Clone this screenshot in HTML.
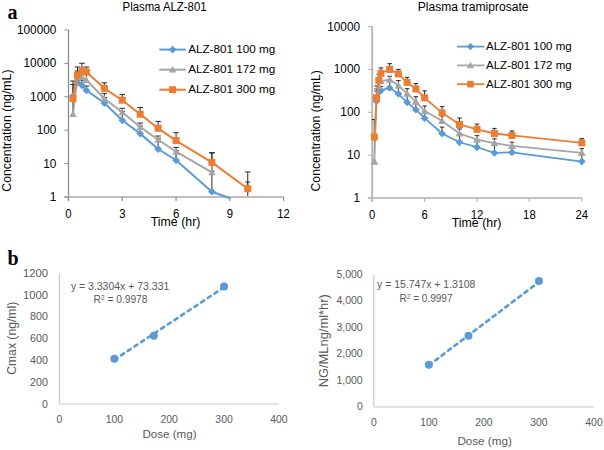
<!DOCTYPE html>
<html><head><meta charset="utf-8"><title>Figure</title>
<style>
html,body{margin:0;padding:0;background:#fff;}
body{width:604px;height:450px;overflow:hidden;}
svg{display:block;font-family:"Liberation Sans", sans-serif;}
</style></head>
<body>
<svg width="604" height="450" viewBox="0 0 604 450">
<rect width="604" height="450" fill="#fff"/>
<text x="164.55" y="11.20" font-size="12.0" text-anchor="middle" fill="#000" textLength="84" lengthAdjust="spacingAndGlyphs">Plasma ALZ-801</text>
<line x1="68.50" y1="30.00" x2="68.50" y2="201.00" stroke="#8c8c8c" stroke-width="1.3"/>
<line x1="64.20" y1="197.00" x2="283.60" y2="197.00" stroke="#bfbfbf" stroke-width="2"/>
<line x1="64.40" y1="197.00" x2="68.50" y2="197.00" stroke="#8c8c8c" stroke-width="1"/>
<text x="56.30" y="201.00" font-size="11.9" text-anchor="end" fill="#000" textLength="6.55" lengthAdjust="spacingAndGlyphs">1</text>
<line x1="64.40" y1="163.60" x2="68.50" y2="163.60" stroke="#8c8c8c" stroke-width="1"/>
<text x="56.30" y="167.60" font-size="11.9" text-anchor="end" fill="#000" textLength="13.1" lengthAdjust="spacingAndGlyphs">10</text>
<line x1="64.40" y1="130.20" x2="68.50" y2="130.20" stroke="#8c8c8c" stroke-width="1"/>
<text x="56.30" y="134.20" font-size="11.9" text-anchor="end" fill="#000" textLength="19.65" lengthAdjust="spacingAndGlyphs">100</text>
<line x1="64.40" y1="96.80" x2="68.50" y2="96.80" stroke="#8c8c8c" stroke-width="1"/>
<text x="56.30" y="100.80" font-size="11.9" text-anchor="end" fill="#000" textLength="26.2" lengthAdjust="spacingAndGlyphs">1000</text>
<line x1="64.40" y1="63.40" x2="68.50" y2="63.40" stroke="#8c8c8c" stroke-width="1"/>
<text x="56.30" y="67.40" font-size="11.9" text-anchor="end" fill="#000" textLength="32.75" lengthAdjust="spacingAndGlyphs">10000</text>
<line x1="64.40" y1="30.00" x2="68.50" y2="30.00" stroke="#8c8c8c" stroke-width="1"/>
<text x="56.30" y="34.00" font-size="11.9" text-anchor="end" fill="#000" textLength="39.3" lengthAdjust="spacingAndGlyphs">100000</text>
<line x1="68.50" y1="197.00" x2="68.50" y2="201.00" stroke="#8c8c8c" stroke-width="1.2"/>
<text x="68.50" y="217.70" font-size="11.9" text-anchor="middle" fill="#000" textLength="6.3" lengthAdjust="spacingAndGlyphs">0</text>
<line x1="122.28" y1="197.00" x2="122.28" y2="201.00" stroke="#8c8c8c" stroke-width="1.2"/>
<text x="122.28" y="217.70" font-size="11.9" text-anchor="middle" fill="#000" textLength="6.3" lengthAdjust="spacingAndGlyphs">3</text>
<line x1="176.05" y1="197.00" x2="176.05" y2="201.00" stroke="#8c8c8c" stroke-width="1.2"/>
<text x="176.05" y="217.70" font-size="11.9" text-anchor="middle" fill="#000" textLength="6.3" lengthAdjust="spacingAndGlyphs">6</text>
<line x1="229.83" y1="197.00" x2="229.83" y2="201.00" stroke="#8c8c8c" stroke-width="1.2"/>
<text x="229.83" y="217.70" font-size="11.9" text-anchor="middle" fill="#000" textLength="6.3" lengthAdjust="spacingAndGlyphs">9</text>
<line x1="283.60" y1="197.00" x2="283.60" y2="201.00" stroke="#8c8c8c" stroke-width="1.2"/>
<text x="283.60" y="217.70" font-size="11.9" text-anchor="middle" fill="#000" textLength="12.6" lengthAdjust="spacingAndGlyphs">12</text>
<text x="175.55" y="225.90" font-size="12.0" text-anchor="middle" fill="#000" textLength="49.6" lengthAdjust="spacingAndGlyphs">Time (hr)</text>
<text x="0" y="0" font-size="12.3" text-anchor="middle" fill="#000" textLength="122.2" lengthAdjust="spacingAndGlyphs" transform="translate(10.60,130.60) rotate(-90)">Concentration (ng/mL)</text>
<clipPath id="cA"><rect x="60" y="20" width="230" height="180"/></clipPath>
<g clip-path="url(#cA)">
<line x1="72.98" y1="113.93" x2="72.98" y2="81.00" stroke="#2a2a2a" stroke-width="1"/>
<line x1="70.18" y1="81.00" x2="75.78" y2="81.00" stroke="#2a2a2a" stroke-width="1"/>
<line x1="77.46" y1="76.69" x2="77.46" y2="71.00" stroke="#2a2a2a" stroke-width="1"/>
<line x1="74.66" y1="71.00" x2="80.26" y2="71.00" stroke="#2a2a2a" stroke-width="1"/>
<line x1="81.94" y1="77.06" x2="81.94" y2="70.00" stroke="#2a2a2a" stroke-width="1"/>
<line x1="79.14" y1="70.00" x2="84.74" y2="70.00" stroke="#2a2a2a" stroke-width="1"/>
<line x1="86.42" y1="80.06" x2="86.42" y2="74.00" stroke="#2a2a2a" stroke-width="1"/>
<line x1="83.62" y1="74.00" x2="89.22" y2="74.00" stroke="#2a2a2a" stroke-width="1"/>
<line x1="104.35" y1="98.49" x2="104.35" y2="93.30" stroke="#2a2a2a" stroke-width="1"/>
<line x1="101.55" y1="93.30" x2="107.15" y2="93.30" stroke="#2a2a2a" stroke-width="1"/>
<line x1="122.28" y1="112.28" x2="122.28" y2="108.30" stroke="#2a2a2a" stroke-width="1"/>
<line x1="119.48" y1="108.30" x2="125.08" y2="108.30" stroke="#2a2a2a" stroke-width="1"/>
<line x1="140.20" y1="126.96" x2="140.20" y2="123.00" stroke="#2a2a2a" stroke-width="1"/>
<line x1="137.40" y1="123.00" x2="143.00" y2="123.00" stroke="#2a2a2a" stroke-width="1"/>
<line x1="158.12" y1="139.69" x2="158.12" y2="136.00" stroke="#2a2a2a" stroke-width="1"/>
<line x1="155.32" y1="136.00" x2="160.93" y2="136.00" stroke="#2a2a2a" stroke-width="1"/>
<line x1="176.05" y1="151.71" x2="176.05" y2="147.40" stroke="#2a2a2a" stroke-width="1"/>
<line x1="173.25" y1="147.40" x2="178.85" y2="147.40" stroke="#2a2a2a" stroke-width="1"/>
<line x1="211.90" y1="172.27" x2="211.90" y2="153.00" stroke="#2a2a2a" stroke-width="1"/>
<line x1="209.10" y1="153.00" x2="214.70" y2="153.00" stroke="#2a2a2a" stroke-width="1"/>
<line x1="72.98" y1="96.09" x2="72.98" y2="84.40" stroke="#2a2a2a" stroke-width="1"/>
<line x1="70.18" y1="84.40" x2="75.78" y2="84.40" stroke="#2a2a2a" stroke-width="1"/>
<line x1="77.46" y1="82.39" x2="77.46" y2="77.00" stroke="#2a2a2a" stroke-width="1"/>
<line x1="74.66" y1="77.00" x2="80.26" y2="77.00" stroke="#2a2a2a" stroke-width="1"/>
<line x1="81.94" y1="85.36" x2="81.94" y2="80.00" stroke="#2a2a2a" stroke-width="1"/>
<line x1="79.14" y1="80.00" x2="84.74" y2="80.00" stroke="#2a2a2a" stroke-width="1"/>
<line x1="86.42" y1="90.44" x2="86.42" y2="86.00" stroke="#2a2a2a" stroke-width="1"/>
<line x1="83.62" y1="86.00" x2="89.22" y2="86.00" stroke="#2a2a2a" stroke-width="1"/>
<line x1="104.35" y1="103.05" x2="104.35" y2="97.50" stroke="#2a2a2a" stroke-width="1"/>
<line x1="101.55" y1="97.50" x2="107.15" y2="97.50" stroke="#2a2a2a" stroke-width="1"/>
<line x1="122.28" y1="120.29" x2="122.28" y2="111.30" stroke="#2a2a2a" stroke-width="1"/>
<line x1="119.48" y1="111.30" x2="125.08" y2="111.30" stroke="#2a2a2a" stroke-width="1"/>
<line x1="140.20" y1="133.62" x2="140.20" y2="126.00" stroke="#2a2a2a" stroke-width="1"/>
<line x1="137.40" y1="126.00" x2="143.00" y2="126.00" stroke="#2a2a2a" stroke-width="1"/>
<line x1="158.12" y1="148.98" x2="158.12" y2="138.70" stroke="#2a2a2a" stroke-width="1"/>
<line x1="155.32" y1="138.70" x2="160.93" y2="138.70" stroke="#2a2a2a" stroke-width="1"/>
<line x1="176.05" y1="160.25" x2="176.05" y2="150.70" stroke="#2a2a2a" stroke-width="1"/>
<line x1="173.25" y1="150.70" x2="178.85" y2="150.70" stroke="#2a2a2a" stroke-width="1"/>
<line x1="211.90" y1="191.71" x2="211.90" y2="171.30" stroke="#2a2a2a" stroke-width="1"/>
<line x1="209.10" y1="171.30" x2="214.70" y2="171.30" stroke="#2a2a2a" stroke-width="1"/>
<line x1="77.46" y1="75.14" x2="77.46" y2="67.00" stroke="#2a2a2a" stroke-width="1"/>
<line x1="74.66" y1="67.00" x2="80.26" y2="67.00" stroke="#2a2a2a" stroke-width="1"/>
<line x1="81.94" y1="70.45" x2="81.94" y2="63.30" stroke="#2a2a2a" stroke-width="1"/>
<line x1="79.14" y1="63.30" x2="84.74" y2="63.30" stroke="#2a2a2a" stroke-width="1"/>
<line x1="86.42" y1="72.07" x2="86.42" y2="67.00" stroke="#2a2a2a" stroke-width="1"/>
<line x1="83.62" y1="67.00" x2="89.22" y2="67.00" stroke="#2a2a2a" stroke-width="1"/>
<line x1="104.35" y1="88.35" x2="104.35" y2="82.80" stroke="#2a2a2a" stroke-width="1"/>
<line x1="101.55" y1="82.80" x2="107.15" y2="82.80" stroke="#2a2a2a" stroke-width="1"/>
<line x1="122.28" y1="100.22" x2="122.28" y2="94.60" stroke="#2a2a2a" stroke-width="1"/>
<line x1="119.48" y1="94.60" x2="125.08" y2="94.60" stroke="#2a2a2a" stroke-width="1"/>
<line x1="140.20" y1="114.26" x2="140.20" y2="107.40" stroke="#2a2a2a" stroke-width="1"/>
<line x1="137.40" y1="107.40" x2="143.00" y2="107.40" stroke="#2a2a2a" stroke-width="1"/>
<line x1="158.12" y1="128.30" x2="158.12" y2="121.40" stroke="#2a2a2a" stroke-width="1"/>
<line x1="155.32" y1="121.40" x2="160.93" y2="121.40" stroke="#2a2a2a" stroke-width="1"/>
<line x1="176.05" y1="140.55" x2="176.05" y2="132.70" stroke="#2a2a2a" stroke-width="1"/>
<line x1="173.25" y1="132.70" x2="178.85" y2="132.70" stroke="#2a2a2a" stroke-width="1"/>
<line x1="211.90" y1="162.35" x2="211.90" y2="152.60" stroke="#2a2a2a" stroke-width="1"/>
<line x1="209.10" y1="152.60" x2="214.70" y2="152.60" stroke="#2a2a2a" stroke-width="1"/>
<line x1="247.75" y1="188.72" x2="247.75" y2="172.00" stroke="#2a2a2a" stroke-width="1"/>
<line x1="244.95" y1="172.00" x2="250.55" y2="172.00" stroke="#2a2a2a" stroke-width="1"/>
</g>
<line x1="247.75" y1="196.00" x2="247.75" y2="182.00" stroke="#262626" stroke-width="1"/>
<line x1="245.25" y1="182.00" x2="250.25" y2="182.00" stroke="#262626" stroke-width="1"/>
<g clip-path="url(#cA)">
<polyline points="72.98,96.09 77.46,82.39 81.94,85.36 86.42,90.44 104.35,103.05 122.28,120.29 140.20,133.62 158.12,148.98 176.05,160.25 211.90,191.71 230.08,198.20" fill="none" stroke="#5b9bd5" stroke-width="2.0" stroke-linejoin="round"/>
<path d="M72.98,92.19 L76.88,96.09 L72.98,99.99 L69.08,96.09 Z" fill="#5b9bd5"/>
<path d="M77.46,78.49 L81.36,82.39 L77.46,86.29 L73.56,82.39 Z" fill="#5b9bd5"/>
<path d="M81.94,81.46 L85.84,85.36 L81.94,89.26 L78.04,85.36 Z" fill="#5b9bd5"/>
<path d="M86.42,86.54 L90.33,90.44 L86.42,94.34 L82.52,90.44 Z" fill="#5b9bd5"/>
<path d="M104.35,99.15 L108.25,103.05 L104.35,106.95 L100.45,103.05 Z" fill="#5b9bd5"/>
<path d="M122.28,116.39 L126.18,120.29 L122.28,124.19 L118.38,120.29 Z" fill="#5b9bd5"/>
<path d="M140.20,129.72 L144.10,133.62 L140.20,137.52 L136.30,133.62 Z" fill="#5b9bd5"/>
<path d="M158.12,145.08 L162.03,148.98 L158.12,152.88 L154.22,148.98 Z" fill="#5b9bd5"/>
<path d="M176.05,156.35 L179.95,160.25 L176.05,164.15 L172.15,160.25 Z" fill="#5b9bd5"/>
<path d="M211.90,187.81 L215.80,191.71 L211.90,195.61 L208.00,191.71 Z" fill="#5b9bd5"/>
<polyline points="72.98,113.93 77.46,76.69 81.94,77.06 86.42,80.06 104.35,98.49 122.28,112.28 140.20,126.96 158.12,139.69 176.05,151.71 211.90,172.27" fill="none" stroke="#a5a5a5" stroke-width="2.0" stroke-linejoin="round"/>
<path d="M72.98,110.23 L76.68,116.89 L69.28,116.89 Z" fill="#a5a5a5"/>
<path d="M77.46,72.99 L81.16,79.65 L73.76,79.65 Z" fill="#a5a5a5"/>
<path d="M81.94,73.36 L85.64,80.02 L78.24,80.02 Z" fill="#a5a5a5"/>
<path d="M86.42,76.36 L90.12,83.02 L82.72,83.02 Z" fill="#a5a5a5"/>
<path d="M104.35,94.79 L108.05,101.45 L100.65,101.45 Z" fill="#a5a5a5"/>
<path d="M122.28,108.58 L125.98,115.24 L118.58,115.24 Z" fill="#a5a5a5"/>
<path d="M140.20,123.26 L143.90,129.92 L136.50,129.92 Z" fill="#a5a5a5"/>
<path d="M158.12,135.99 L161.82,142.65 L154.43,142.65 Z" fill="#a5a5a5"/>
<path d="M176.05,148.01 L179.75,154.67 L172.35,154.67 Z" fill="#a5a5a5"/>
<path d="M211.90,168.57 L215.60,175.23 L208.20,175.23 Z" fill="#a5a5a5"/>
<polyline points="72.98,98.49 77.46,75.14 81.94,70.45 86.42,72.07 104.35,88.35 122.28,100.22 140.20,114.26 158.12,128.30 176.05,140.55 211.90,162.35 247.75,188.72" fill="none" stroke="#ed7d31" stroke-width="2.0" stroke-linejoin="round"/>
<rect x="69.48" y="94.99" width="7.00" height="7.00" fill="#ed7d31"/>
<rect x="73.96" y="71.64" width="7.00" height="7.00" fill="#ed7d31"/>
<rect x="78.44" y="66.95" width="7.00" height="7.00" fill="#ed7d31"/>
<rect x="82.92" y="68.57" width="7.00" height="7.00" fill="#ed7d31"/>
<rect x="100.85" y="84.85" width="7.00" height="7.00" fill="#ed7d31"/>
<rect x="118.78" y="96.72" width="7.00" height="7.00" fill="#ed7d31"/>
<rect x="136.70" y="110.76" width="7.00" height="7.00" fill="#ed7d31"/>
<rect x="154.62" y="124.80" width="7.00" height="7.00" fill="#ed7d31"/>
<rect x="172.55" y="137.05" width="7.00" height="7.00" fill="#ed7d31"/>
<rect x="208.40" y="158.85" width="7.00" height="7.00" fill="#ed7d31"/>
<rect x="244.25" y="185.22" width="7.00" height="7.00" fill="#ed7d31"/>
</g>
<line x1="159.30" y1="49.60" x2="185.90" y2="49.60" stroke="#5b9bd5" stroke-width="2.0"/>
<path d="M172.60,45.70 L176.50,49.60 L172.60,53.50 L168.70,49.60 Z" fill="#5b9bd5"/>
<text x="188.20" y="52.90" font-size="11.6" text-anchor="start" fill="#000" textLength="87" lengthAdjust="spacingAndGlyphs">ALZ-801 100 mg</text>
<line x1="159.30" y1="69.65" x2="185.90" y2="69.65" stroke="#a5a5a5" stroke-width="2.0"/>
<path d="M172.60,65.95 L176.30,72.61 L168.90,72.61 Z" fill="#a5a5a5"/>
<text x="188.20" y="72.95" font-size="11.6" text-anchor="start" fill="#000" textLength="87" lengthAdjust="spacingAndGlyphs">ALZ-801 172 mg</text>
<line x1="159.30" y1="89.70" x2="185.90" y2="89.70" stroke="#ed7d31" stroke-width="2.0"/>
<rect x="169.10" y="86.20" width="7.00" height="7.00" fill="#ed7d31"/>
<text x="188.20" y="93.00" font-size="11.6" text-anchor="start" fill="#000" textLength="87" lengthAdjust="spacingAndGlyphs">ALZ-801 300 mg</text>
<text x="473.20" y="10.90" font-size="12.0" text-anchor="middle" fill="#000" textLength="110.8" lengthAdjust="spacingAndGlyphs">Plasma tramiprosate</text>
<line x1="372.20" y1="26.60" x2="372.20" y2="201.80" stroke="#b4b4b4" stroke-width="1.8"/>
<line x1="367.80" y1="198.00" x2="581.80" y2="198.00" stroke="#c4c4c4" stroke-width="2"/>
<line x1="368.20" y1="198.00" x2="372.20" y2="198.00" stroke="#b4b4b4" stroke-width="1.2"/>
<text x="360.00" y="201.95" font-size="11.9" text-anchor="end" fill="#000" textLength="6.55" lengthAdjust="spacingAndGlyphs">1</text>
<line x1="368.20" y1="155.15" x2="372.20" y2="155.15" stroke="#b4b4b4" stroke-width="1.2"/>
<text x="360.00" y="159.10" font-size="11.9" text-anchor="end" fill="#000" textLength="13.1" lengthAdjust="spacingAndGlyphs">10</text>
<line x1="368.20" y1="112.30" x2="372.20" y2="112.30" stroke="#b4b4b4" stroke-width="1.2"/>
<text x="360.00" y="116.25" font-size="11.9" text-anchor="end" fill="#000" textLength="19.65" lengthAdjust="spacingAndGlyphs">100</text>
<line x1="368.20" y1="69.45" x2="372.20" y2="69.45" stroke="#b4b4b4" stroke-width="1.2"/>
<text x="360.00" y="73.40" font-size="11.9" text-anchor="end" fill="#000" textLength="26.2" lengthAdjust="spacingAndGlyphs">1000</text>
<line x1="368.20" y1="26.60" x2="372.20" y2="26.60" stroke="#b4b4b4" stroke-width="1.2"/>
<text x="360.00" y="30.55" font-size="11.9" text-anchor="end" fill="#000" textLength="32.75" lengthAdjust="spacingAndGlyphs">10000</text>
<line x1="372.20" y1="198.00" x2="372.20" y2="201.80" stroke="#b4b4b4" stroke-width="1.2"/>
<text x="372.20" y="218.70" font-size="11.9" text-anchor="middle" fill="#000" textLength="6.3" lengthAdjust="spacingAndGlyphs">0</text>
<line x1="424.60" y1="198.00" x2="424.60" y2="201.80" stroke="#b4b4b4" stroke-width="1.2"/>
<text x="424.60" y="218.70" font-size="11.9" text-anchor="middle" fill="#000" textLength="6.3" lengthAdjust="spacingAndGlyphs">6</text>
<line x1="477.00" y1="198.00" x2="477.00" y2="201.80" stroke="#b4b4b4" stroke-width="1.2"/>
<text x="477.00" y="218.70" font-size="11.9" text-anchor="middle" fill="#000" textLength="12.6" lengthAdjust="spacingAndGlyphs">12</text>
<line x1="529.40" y1="198.00" x2="529.40" y2="201.80" stroke="#b4b4b4" stroke-width="1.2"/>
<text x="529.40" y="218.70" font-size="11.9" text-anchor="middle" fill="#000" textLength="12.6" lengthAdjust="spacingAndGlyphs">18</text>
<line x1="581.80" y1="198.00" x2="581.80" y2="201.80" stroke="#b4b4b4" stroke-width="1.2"/>
<text x="581.80" y="218.70" font-size="11.9" text-anchor="middle" fill="#000" textLength="12.6" lengthAdjust="spacingAndGlyphs">24</text>
<text x="476.55" y="226.90" font-size="12.0" text-anchor="middle" fill="#000" textLength="49.6" lengthAdjust="spacingAndGlyphs">Time (hr)</text>
<text x="0" y="0" font-size="12.3" text-anchor="middle" fill="#000" textLength="121.2" lengthAdjust="spacingAndGlyphs" transform="translate(320.30,130.85) rotate(-90)">Concentration (ng/mL)</text>
<clipPath id="cB"><rect x="365" y="20" width="230" height="179.5"/></clipPath>
<g clip-path="url(#cB)">
<line x1="374.38" y1="161.52" x2="374.38" y2="119.52" stroke="#262626" stroke-width="1"/>
<line x1="372.13" y1="119.52" x2="376.63" y2="119.52" stroke="#262626" stroke-width="1"/>
<line x1="376.57" y1="98.06" x2="376.57" y2="88.76" stroke="#262626" stroke-width="1"/>
<line x1="374.32" y1="88.76" x2="378.82" y2="88.76" stroke="#262626" stroke-width="1"/>
<line x1="378.75" y1="86.00" x2="378.75" y2="81.00" stroke="#262626" stroke-width="1"/>
<line x1="376.50" y1="81.00" x2="381.00" y2="81.00" stroke="#262626" stroke-width="1"/>
<line x1="380.93" y1="80.92" x2="380.93" y2="75.92" stroke="#262626" stroke-width="1"/>
<line x1="378.68" y1="75.92" x2="383.18" y2="75.92" stroke="#262626" stroke-width="1"/>
<line x1="389.67" y1="79.65" x2="389.67" y2="76.25" stroke="#262626" stroke-width="1"/>
<line x1="387.42" y1="76.25" x2="391.92" y2="76.25" stroke="#262626" stroke-width="1"/>
<line x1="398.40" y1="85.59" x2="398.40" y2="80.59" stroke="#262626" stroke-width="1"/>
<line x1="396.15" y1="80.59" x2="400.65" y2="80.59" stroke="#262626" stroke-width="1"/>
<line x1="407.13" y1="93.68" x2="407.13" y2="88.68" stroke="#262626" stroke-width="1"/>
<line x1="404.88" y1="88.68" x2="409.38" y2="88.68" stroke="#262626" stroke-width="1"/>
<line x1="415.87" y1="101.67" x2="415.87" y2="96.67" stroke="#262626" stroke-width="1"/>
<line x1="413.62" y1="96.67" x2="418.12" y2="96.67" stroke="#262626" stroke-width="1"/>
<line x1="424.60" y1="111.04" x2="424.60" y2="106.04" stroke="#262626" stroke-width="1"/>
<line x1="422.35" y1="106.04" x2="426.85" y2="106.04" stroke="#262626" stroke-width="1"/>
<line x1="442.07" y1="120.90" x2="442.07" y2="115.90" stroke="#262626" stroke-width="1"/>
<line x1="439.82" y1="115.90" x2="444.32" y2="115.90" stroke="#262626" stroke-width="1"/>
<line x1="459.53" y1="133.50" x2="459.53" y2="129.00" stroke="#262626" stroke-width="1"/>
<line x1="457.28" y1="129.00" x2="461.78" y2="129.00" stroke="#262626" stroke-width="1"/>
<line x1="477.00" y1="139.65" x2="477.00" y2="135.65" stroke="#262626" stroke-width="1"/>
<line x1="474.75" y1="135.65" x2="479.25" y2="135.65" stroke="#262626" stroke-width="1"/>
<line x1="494.47" y1="143.21" x2="494.47" y2="138.81" stroke="#262626" stroke-width="1"/>
<line x1="492.22" y1="138.81" x2="496.72" y2="138.81" stroke="#262626" stroke-width="1"/>
<line x1="511.93" y1="145.94" x2="511.93" y2="142.24" stroke="#262626" stroke-width="1"/>
<line x1="509.68" y1="142.24" x2="514.18" y2="142.24" stroke="#262626" stroke-width="1"/>
<line x1="581.80" y1="152.88" x2="581.80" y2="148.68" stroke="#262626" stroke-width="1"/>
<line x1="579.55" y1="148.68" x2="584.05" y2="148.68" stroke="#262626" stroke-width="1"/>
<line x1="376.57" y1="101.26" x2="376.57" y2="90.96" stroke="#262626" stroke-width="1"/>
<line x1="374.32" y1="90.96" x2="378.82" y2="90.96" stroke="#262626" stroke-width="1"/>
<line x1="378.75" y1="91.98" x2="378.75" y2="86.98" stroke="#262626" stroke-width="1"/>
<line x1="376.50" y1="86.98" x2="381.00" y2="86.98" stroke="#262626" stroke-width="1"/>
<line x1="380.93" y1="90.48" x2="380.93" y2="86.48" stroke="#262626" stroke-width="1"/>
<line x1="378.68" y1="86.48" x2="383.18" y2="86.48" stroke="#262626" stroke-width="1"/>
<line x1="389.67" y1="87.95" x2="389.67" y2="80.15" stroke="#262626" stroke-width="1"/>
<line x1="387.42" y1="80.15" x2="391.92" y2="80.15" stroke="#262626" stroke-width="1"/>
<line x1="398.40" y1="93.82" x2="398.40" y2="86.09" stroke="#262626" stroke-width="1"/>
<line x1="396.15" y1="86.09" x2="400.65" y2="86.09" stroke="#262626" stroke-width="1"/>
<line x1="407.13" y1="102.32" x2="407.13" y2="94.18" stroke="#262626" stroke-width="1"/>
<line x1="404.88" y1="94.18" x2="409.38" y2="94.18" stroke="#262626" stroke-width="1"/>
<line x1="415.87" y1="109.70" x2="415.87" y2="102.17" stroke="#262626" stroke-width="1"/>
<line x1="413.62" y1="102.17" x2="418.12" y2="102.17" stroke="#262626" stroke-width="1"/>
<line x1="424.60" y1="118.16" x2="424.60" y2="111.54" stroke="#262626" stroke-width="1"/>
<line x1="422.35" y1="111.54" x2="426.85" y2="111.54" stroke="#262626" stroke-width="1"/>
<line x1="442.07" y1="133.50" x2="442.07" y2="127.10" stroke="#262626" stroke-width="1"/>
<line x1="439.82" y1="127.10" x2="444.32" y2="127.10" stroke="#262626" stroke-width="1"/>
<line x1="459.53" y1="142.25" x2="459.53" y2="134.00" stroke="#262626" stroke-width="1"/>
<line x1="457.28" y1="134.00" x2="461.78" y2="134.00" stroke="#262626" stroke-width="1"/>
<line x1="477.00" y1="147.24" x2="477.00" y2="140.15" stroke="#262626" stroke-width="1"/>
<line x1="474.75" y1="140.15" x2="479.25" y2="140.15" stroke="#262626" stroke-width="1"/>
<line x1="494.47" y1="152.88" x2="494.47" y2="143.71" stroke="#262626" stroke-width="1"/>
<line x1="492.22" y1="143.71" x2="496.72" y2="143.71" stroke="#262626" stroke-width="1"/>
<line x1="511.93" y1="152.39" x2="511.93" y2="146.44" stroke="#262626" stroke-width="1"/>
<line x1="509.68" y1="146.44" x2="514.18" y2="146.44" stroke="#262626" stroke-width="1"/>
<line x1="581.80" y1="161.52" x2="581.80" y2="153.38" stroke="#262626" stroke-width="1"/>
<line x1="579.55" y1="153.38" x2="584.05" y2="153.38" stroke="#262626" stroke-width="1"/>
<line x1="374.38" y1="137.01" x2="374.38" y2="119.41" stroke="#262626" stroke-width="1"/>
<line x1="372.13" y1="119.41" x2="376.63" y2="119.41" stroke="#262626" stroke-width="1"/>
<line x1="376.57" y1="97.71" x2="376.57" y2="85.91" stroke="#262626" stroke-width="1"/>
<line x1="374.32" y1="85.91" x2="378.82" y2="85.91" stroke="#262626" stroke-width="1"/>
<line x1="378.75" y1="80.31" x2="378.75" y2="74.31" stroke="#262626" stroke-width="1"/>
<line x1="376.50" y1="74.31" x2="381.00" y2="74.31" stroke="#262626" stroke-width="1"/>
<line x1="380.93" y1="73.30" x2="380.93" y2="67.90" stroke="#262626" stroke-width="1"/>
<line x1="378.68" y1="67.90" x2="383.18" y2="67.90" stroke="#262626" stroke-width="1"/>
<line x1="389.67" y1="69.45" x2="389.67" y2="63.65" stroke="#262626" stroke-width="1"/>
<line x1="387.42" y1="63.65" x2="391.92" y2="63.65" stroke="#262626" stroke-width="1"/>
<line x1="398.40" y1="74.00" x2="398.40" y2="69.40" stroke="#262626" stroke-width="1"/>
<line x1="396.15" y1="69.40" x2="400.65" y2="69.40" stroke="#262626" stroke-width="1"/>
<line x1="407.13" y1="82.35" x2="407.13" y2="77.35" stroke="#262626" stroke-width="1"/>
<line x1="404.88" y1="77.35" x2="409.38" y2="77.35" stroke="#262626" stroke-width="1"/>
<line x1="415.87" y1="88.99" x2="415.87" y2="83.49" stroke="#262626" stroke-width="1"/>
<line x1="413.62" y1="83.49" x2="418.12" y2="83.49" stroke="#262626" stroke-width="1"/>
<line x1="424.60" y1="97.80" x2="424.60" y2="90.80" stroke="#262626" stroke-width="1"/>
<line x1="422.35" y1="90.80" x2="426.85" y2="90.80" stroke="#262626" stroke-width="1"/>
<line x1="442.07" y1="112.87" x2="442.07" y2="106.67" stroke="#262626" stroke-width="1"/>
<line x1="439.82" y1="106.67" x2="444.32" y2="106.67" stroke="#262626" stroke-width="1"/>
<line x1="459.53" y1="124.47" x2="459.53" y2="117.97" stroke="#262626" stroke-width="1"/>
<line x1="457.28" y1="117.97" x2="461.78" y2="117.97" stroke="#262626" stroke-width="1"/>
<line x1="477.00" y1="129.35" x2="477.00" y2="124.05" stroke="#262626" stroke-width="1"/>
<line x1="474.75" y1="124.05" x2="479.25" y2="124.05" stroke="#262626" stroke-width="1"/>
<line x1="494.47" y1="133.50" x2="494.47" y2="128.40" stroke="#262626" stroke-width="1"/>
<line x1="492.22" y1="128.40" x2="496.72" y2="128.40" stroke="#262626" stroke-width="1"/>
<line x1="511.93" y1="135.47" x2="511.93" y2="130.97" stroke="#262626" stroke-width="1"/>
<line x1="509.68" y1="130.97" x2="514.18" y2="130.97" stroke="#262626" stroke-width="1"/>
<line x1="581.80" y1="142.82" x2="581.80" y2="138.62" stroke="#262626" stroke-width="1"/>
<line x1="579.55" y1="138.62" x2="584.05" y2="138.62" stroke="#262626" stroke-width="1"/>
<polyline points="376.57,101.26 378.75,91.98 380.93,90.48 389.67,87.95 398.40,93.82 407.13,102.32 415.87,109.70 424.60,118.16 442.07,133.50 459.53,142.25 477.00,147.24 494.47,152.88 511.93,152.39 581.80,161.52" fill="none" stroke="#5b9bd5" stroke-width="1.8" stroke-linejoin="round"/>
<path d="M376.57,97.36 L380.47,101.26 L376.57,105.16 L372.67,101.26 Z" fill="#5b9bd5"/>
<path d="M378.75,88.08 L382.65,91.98 L378.75,95.88 L374.85,91.98 Z" fill="#5b9bd5"/>
<path d="M380.93,86.58 L384.83,90.48 L380.93,94.38 L377.03,90.48 Z" fill="#5b9bd5"/>
<path d="M389.67,84.05 L393.57,87.95 L389.67,91.85 L385.77,87.95 Z" fill="#5b9bd5"/>
<path d="M398.40,89.92 L402.30,93.82 L398.40,97.72 L394.50,93.82 Z" fill="#5b9bd5"/>
<path d="M407.13,98.42 L411.03,102.32 L407.13,106.22 L403.23,102.32 Z" fill="#5b9bd5"/>
<path d="M415.87,105.80 L419.77,109.70 L415.87,113.60 L411.97,109.70 Z" fill="#5b9bd5"/>
<path d="M424.60,114.26 L428.50,118.16 L424.60,122.06 L420.70,118.16 Z" fill="#5b9bd5"/>
<path d="M442.07,129.60 L445.97,133.50 L442.07,137.40 L438.17,133.50 Z" fill="#5b9bd5"/>
<path d="M459.53,138.35 L463.43,142.25 L459.53,146.15 L455.63,142.25 Z" fill="#5b9bd5"/>
<path d="M477.00,143.34 L480.90,147.24 L477.00,151.14 L473.10,147.24 Z" fill="#5b9bd5"/>
<path d="M494.47,148.98 L498.37,152.88 L494.47,156.78 L490.57,152.88 Z" fill="#5b9bd5"/>
<path d="M511.93,148.49 L515.83,152.39 L511.93,156.29 L508.03,152.39 Z" fill="#5b9bd5"/>
<path d="M581.80,157.62 L585.70,161.52 L581.80,165.42 L577.90,161.52 Z" fill="#5b9bd5"/>
<polyline points="374.38,161.52 376.57,98.06 378.75,86.00 380.93,80.92 389.67,79.65 398.40,85.59 407.13,93.68 415.87,101.67 424.60,111.04 442.07,120.90 459.53,133.50 477.00,139.65 494.47,143.21 511.93,145.94 581.80,152.88" fill="none" stroke="#a5a5a5" stroke-width="1.8" stroke-linejoin="round"/>
<path d="M374.38,157.62 L378.28,164.64 L370.48,164.64 Z" fill="#a5a5a5"/>
<path d="M376.57,94.16 L380.47,101.18 L372.67,101.18 Z" fill="#a5a5a5"/>
<path d="M378.75,82.10 L382.65,89.12 L374.85,89.12 Z" fill="#a5a5a5"/>
<path d="M380.93,77.02 L384.83,84.04 L377.03,84.04 Z" fill="#a5a5a5"/>
<path d="M389.67,75.75 L393.57,82.77 L385.77,82.77 Z" fill="#a5a5a5"/>
<path d="M398.40,81.69 L402.30,88.71 L394.50,88.71 Z" fill="#a5a5a5"/>
<path d="M407.13,89.78 L411.03,96.80 L403.23,96.80 Z" fill="#a5a5a5"/>
<path d="M415.87,97.77 L419.77,104.79 L411.97,104.79 Z" fill="#a5a5a5"/>
<path d="M424.60,107.14 L428.50,114.16 L420.70,114.16 Z" fill="#a5a5a5"/>
<path d="M442.07,117.00 L445.97,124.02 L438.17,124.02 Z" fill="#a5a5a5"/>
<path d="M459.53,129.60 L463.43,136.62 L455.63,136.62 Z" fill="#a5a5a5"/>
<path d="M477.00,135.75 L480.90,142.77 L473.10,142.77 Z" fill="#a5a5a5"/>
<path d="M494.47,139.31 L498.37,146.33 L490.57,146.33 Z" fill="#a5a5a5"/>
<path d="M511.93,142.04 L515.83,149.06 L508.03,149.06 Z" fill="#a5a5a5"/>
<path d="M581.80,148.98 L585.70,156.00 L577.90,156.00 Z" fill="#a5a5a5"/>
<polyline points="374.38,137.01 376.57,97.71 378.75,80.31 380.93,73.30 389.67,69.45 398.40,74.00 407.13,82.35 415.87,88.99 424.60,97.80 442.07,112.87 459.53,124.47 477.00,129.35 494.47,133.50 511.93,135.47 581.80,142.82" fill="none" stroke="#ed7d31" stroke-width="1.8" stroke-linejoin="round"/>
<rect x="370.88" y="133.51" width="7.00" height="7.00" fill="#ed7d31"/>
<rect x="373.07" y="94.21" width="7.00" height="7.00" fill="#ed7d31"/>
<rect x="375.25" y="76.81" width="7.00" height="7.00" fill="#ed7d31"/>
<rect x="377.43" y="69.80" width="7.00" height="7.00" fill="#ed7d31"/>
<rect x="386.17" y="65.95" width="7.00" height="7.00" fill="#ed7d31"/>
<rect x="394.90" y="70.50" width="7.00" height="7.00" fill="#ed7d31"/>
<rect x="403.63" y="78.85" width="7.00" height="7.00" fill="#ed7d31"/>
<rect x="412.37" y="85.49" width="7.00" height="7.00" fill="#ed7d31"/>
<rect x="421.10" y="94.30" width="7.00" height="7.00" fill="#ed7d31"/>
<rect x="438.57" y="109.37" width="7.00" height="7.00" fill="#ed7d31"/>
<rect x="456.03" y="120.97" width="7.00" height="7.00" fill="#ed7d31"/>
<rect x="473.50" y="125.85" width="7.00" height="7.00" fill="#ed7d31"/>
<rect x="490.97" y="130.00" width="7.00" height="7.00" fill="#ed7d31"/>
<rect x="508.43" y="131.97" width="7.00" height="7.00" fill="#ed7d31"/>
<rect x="578.30" y="139.32" width="7.00" height="7.00" fill="#ed7d31"/>
</g>
<line x1="457.00" y1="46.60" x2="484.30" y2="46.60" stroke="#5b9bd5" stroke-width="1.8"/>
<path d="M470.50,42.90 L474.20,46.60 L470.50,50.30 L466.80,46.60 Z" fill="#5b9bd5"/>
<text x="486.00" y="50.20" font-size="11.4" text-anchor="start" fill="#000" textLength="85.7" lengthAdjust="spacingAndGlyphs">ALZ-801 100 mg</text>
<line x1="457.00" y1="65.40" x2="484.30" y2="65.40" stroke="#a5a5a5" stroke-width="1.8"/>
<path d="M470.50,61.80 L474.10,68.28 L466.90,68.28 Z" fill="#a5a5a5"/>
<text x="486.00" y="69.00" font-size="11.4" text-anchor="start" fill="#000" textLength="85.7" lengthAdjust="spacingAndGlyphs">ALZ-801 172 mg</text>
<line x1="457.00" y1="84.20" x2="484.30" y2="84.20" stroke="#ed7d31" stroke-width="1.8"/>
<rect x="467.20" y="80.90" width="6.60" height="6.60" fill="#ed7d31"/>
<text x="486.00" y="87.80" font-size="11.4" text-anchor="start" fill="#000" textLength="85.7" lengthAdjust="spacingAndGlyphs">ALZ-801 300 mg</text>
<line x1="59.50" y1="273.40" x2="59.50" y2="404.00" stroke="#c8c8c8" stroke-width="1.2"/>
<line x1="59.50" y1="404.00" x2="278.90" y2="404.00" stroke="#c8c8c8" stroke-width="1.2"/>
<text x="48.00" y="407.50" font-size="10.2" text-anchor="end" fill="#595959" textLength="5.9" lengthAdjust="spacingAndGlyphs">0</text>
<text x="48.00" y="385.73" font-size="10.2" text-anchor="end" fill="#595959" textLength="17.9" lengthAdjust="spacingAndGlyphs">200</text>
<text x="48.00" y="363.97" font-size="10.2" text-anchor="end" fill="#595959" textLength="17.9" lengthAdjust="spacingAndGlyphs">400</text>
<text x="48.00" y="342.20" font-size="10.2" text-anchor="end" fill="#595959" textLength="17.9" lengthAdjust="spacingAndGlyphs">600</text>
<text x="48.00" y="320.43" font-size="10.2" text-anchor="end" fill="#595959" textLength="17.9" lengthAdjust="spacingAndGlyphs">800</text>
<text x="48.00" y="298.67" font-size="10.2" text-anchor="end" fill="#595959" textLength="25.0" lengthAdjust="spacingAndGlyphs">1000</text>
<text x="48.00" y="276.90" font-size="10.2" text-anchor="end" fill="#595959" textLength="25.0" lengthAdjust="spacingAndGlyphs">1200</text>
<text x="59.50" y="423.00" font-size="10.2" text-anchor="middle" fill="#595959" textLength="5.8" lengthAdjust="spacingAndGlyphs">0</text>
<text x="114.35" y="423.00" font-size="10.2" text-anchor="middle" fill="#595959" textLength="17.4" lengthAdjust="spacingAndGlyphs">100</text>
<text x="169.20" y="423.00" font-size="10.2" text-anchor="middle" fill="#595959" textLength="17.4" lengthAdjust="spacingAndGlyphs">200</text>
<text x="224.05" y="423.00" font-size="10.2" text-anchor="middle" fill="#595959" textLength="17.4" lengthAdjust="spacingAndGlyphs">300</text>
<text x="278.90" y="423.00" font-size="10.2" text-anchor="middle" fill="#595959" textLength="17.4" lengthAdjust="spacingAndGlyphs">400</text>
<text x="169.45" y="437.80" font-size="11.2" text-anchor="middle" fill="#595959" textLength="54.1" lengthAdjust="spacingAndGlyphs">Dose (mg)</text>
<text x="0" y="0" font-size="12.3" text-anchor="middle" fill="#595959" textLength="73" lengthAdjust="spacingAndGlyphs" transform="translate(16.40,338.30) rotate(-90)">Cmax (ng/ml)</text>
<text x="120.10" y="289.90" font-size="10.2" text-anchor="middle" fill="#595959" textLength="98.4" lengthAdjust="spacingAndGlyphs">y = 3.3304x + 73.331</text>
<text x="93.60" y="303.40" font-size="10.2" fill="#595959" textLength="53.8" lengthAdjust="spacingAndGlyphs">R<tspan font-size="6.6" dy="-3.6">2</tspan><tspan dy="3.6"> = 0.9978</tspan></text>
<line x1="114.35" y1="359.77" x2="224.05" y2="287.28" stroke="#5b9bd5" stroke-width="2.6" stroke-dasharray="3.6,4.4" stroke-linecap="round"/>
<circle cx="114.35" cy="358.83" r="4.0" fill="#5b9bd5"/>
<circle cx="153.84" cy="335.65" r="4.0" fill="#5b9bd5"/>
<circle cx="224.05" cy="286.46" r="4.0" fill="#5b9bd5"/>
<line x1="373.80" y1="274.70" x2="373.80" y2="407.00" stroke="#c8c8c8" stroke-width="1.2"/>
<line x1="373.80" y1="407.00" x2="594.00" y2="407.00" stroke="#c8c8c8" stroke-width="1.2"/>
<text x="362.70" y="410.30" font-size="10.2" text-anchor="end" fill="#595959" textLength="5.8" lengthAdjust="spacingAndGlyphs">0</text>
<text x="362.70" y="383.84" font-size="10.2" text-anchor="end" fill="#595959" textLength="26.3" lengthAdjust="spacingAndGlyphs">1,000</text>
<text x="362.70" y="357.38" font-size="10.2" text-anchor="end" fill="#595959" textLength="26.3" lengthAdjust="spacingAndGlyphs">2,000</text>
<text x="362.70" y="330.92" font-size="10.2" text-anchor="end" fill="#595959" textLength="26.3" lengthAdjust="spacingAndGlyphs">3,000</text>
<text x="362.70" y="304.46" font-size="10.2" text-anchor="end" fill="#595959" textLength="26.3" lengthAdjust="spacingAndGlyphs">4,000</text>
<text x="362.70" y="278.00" font-size="10.2" text-anchor="end" fill="#595959" textLength="26.3" lengthAdjust="spacingAndGlyphs">5,000</text>
<text x="373.80" y="425.50" font-size="10.2" text-anchor="middle" fill="#595959" textLength="5.8" lengthAdjust="spacingAndGlyphs">0</text>
<text x="428.85" y="425.50" font-size="10.2" text-anchor="middle" fill="#595959" textLength="17.4" lengthAdjust="spacingAndGlyphs">100</text>
<text x="483.90" y="425.50" font-size="10.2" text-anchor="middle" fill="#595959" textLength="17.4" lengthAdjust="spacingAndGlyphs">200</text>
<text x="538.95" y="425.50" font-size="10.2" text-anchor="middle" fill="#595959" textLength="17.4" lengthAdjust="spacingAndGlyphs">300</text>
<text x="594.00" y="425.50" font-size="10.2" text-anchor="middle" fill="#595959" textLength="17.4" lengthAdjust="spacingAndGlyphs">400</text>
<text x="484.60" y="445.30" font-size="11.2" text-anchor="middle" fill="#595959" textLength="54.4" lengthAdjust="spacingAndGlyphs">Dose (mg)</text>
<text x="0" y="0" font-size="12.0" text-anchor="middle" fill="#595959" textLength="93.2" lengthAdjust="spacingAndGlyphs" transform="translate(328.00,340.75) rotate(-90)">NG/MLng/ml*hr)</text>
<text x="426.20" y="287.90" font-size="10.2" text-anchor="middle" fill="#595959" textLength="98.3" lengthAdjust="spacingAndGlyphs">y = 15.747x + 1.3108</text>
<text x="399.60" y="302.40" font-size="10.2" fill="#595959" textLength="52.9" lengthAdjust="spacingAndGlyphs">R<tspan font-size="6.6" dy="-3.6">2</tspan><tspan dy="3.6"> = 0.9997</tspan></text>
<line x1="428.85" y1="365.30" x2="538.95" y2="281.97" stroke="#5b9bd5" stroke-width="2.6" stroke-dasharray="3.6,4.4" stroke-linecap="round"/>
<circle cx="428.85" cy="364.66" r="4.0" fill="#5b9bd5"/>
<circle cx="468.49" cy="335.82" r="4.0" fill="#5b9bd5"/>
<circle cx="538.95" cy="281.05" r="4.0" fill="#5b9bd5"/>
<text x="7.6" y="19.0" font-family="Liberation Serif, serif" font-weight="bold" font-size="20" fill="#000">a</text>
<text x="7.6" y="265.0" font-family="Liberation Serif, serif" font-weight="bold" font-size="20" fill="#000">b</text>
</svg>
</body></html>
